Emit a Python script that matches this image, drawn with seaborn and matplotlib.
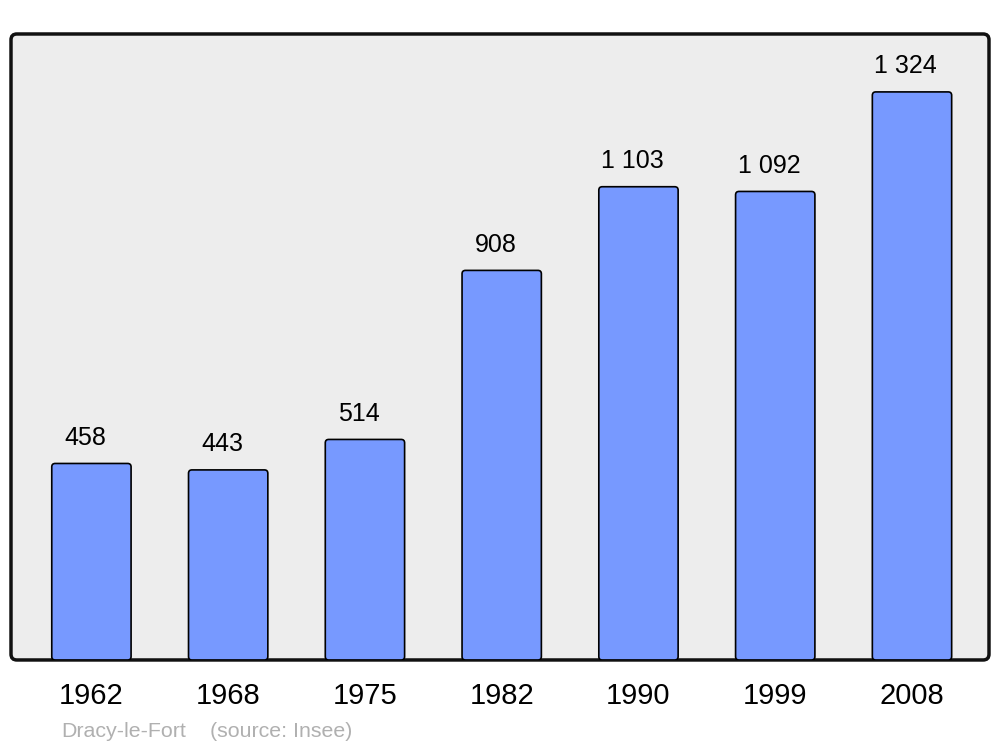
import matplotlib
matplotlib.use("Agg")
import matplotlib.pyplot as plt
from matplotlib.patches import FancyBboxPatch
import seaborn as sns

years = ["1962", "1968", "1975", "1982", "1990", "1999", "2008"]
population = [458, 443, 514, 908, 1103, 1092, 1324]
value_labels = ["458", "443", "514", "908", "1 103", "1 092", "1 324"]

sns.set_style("white")
plt.rcParams['font.family'] = ['Liberation Sans', 'DejaVu Sans']

fig = plt.figure(figsize=(10, 7.47), dpi=100)
ax = fig.add_axes([0.011, 0.1165, 0.978, 0.838])
ax.set_facecolor("none")

sns.barplot(x=years, y=population, ax=ax, color="#7799ff", saturation=1,
            width=0.58, edgecolor="black", linewidth=1.2, zorder=2)

ax.set_xlim(-0.588, 6.563)
ax.set_ylim(0, 1459)

# rounded corners for the bars
x_px = 978 / (6.563 + 0.588)
y_px = 626 / 1459
for p in list(ax.patches):
    x, y, w, h = p.get_x(), p.get_y(), p.get_width(), p.get_height()
    rb = FancyBboxPatch((x, y), w, h, boxstyle="round,pad=0,rounding_size=0.025",
                        mutation_aspect=x_px / y_px, facecolor="#7799ff",
                        edgecolor="black", linewidth=1.2, zorder=3)
    ax.add_patch(rb)
    p.set_visible(False)

for i, (v, lab) in enumerate(zip(population, value_labels)):
    ax.annotate(lab, (i - 0.045, v), xytext=(0, 13.5), textcoords="offset points",
                ha="center", va="baseline", fontsize=18, color="black")

# rounded frame
frame = FancyBboxPatch((0, 0), 1, 1, transform=ax.transAxes,
                       boxstyle="round,pad=0,rounding_size=0.006",
                       mutation_aspect=978 / 626,
                       facecolor="#ededed", edgecolor="#111111", linewidth=2.5,
                       zorder=0, clip_on=False)
ax.add_patch(frame)
for s in ax.spines.values():
    s.set_visible(False)

ax.set_yticks([])
ax.tick_params(axis="x", length=0, pad=15.5, labelsize=21, labelcolor="black")
ax.set_xlabel("")
ax.set_ylabel("")

fig.text(0.061, 0.0134, "Dracy-le-Fort", color="#b0b0b0", fontsize=15.4, va="baseline")
fig.text(0.210, 0.0134, "(source: Insee)", color="#b0b0b0", fontsize=15.4, va="baseline")

fig.savefig("out.png", dpi=100)
